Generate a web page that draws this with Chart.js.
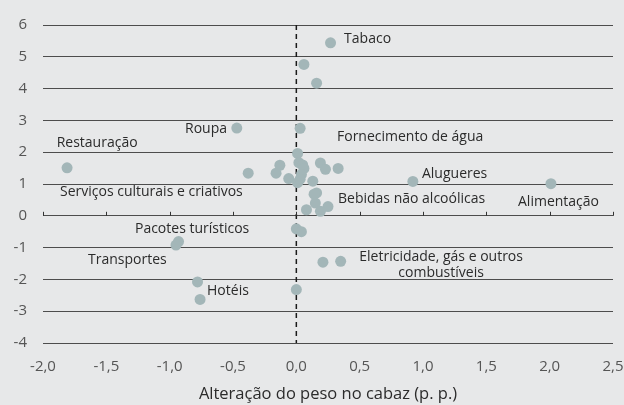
<!DOCTYPE html>
<html>
<head>
<meta charset="utf-8">
<script src="https://cdn.jsdelivr.net/npm/chart.js@4"></script>
<style>
  html, body { margin: 0; padding: 0; background: #e7e8e9; }
  #wrap { width: 624px; height: 405px; }
</style>
</head>
<body>
<div id="wrap"><canvas id="chart"></canvas></div>
<script>
// --- data ---
const xValues = [0.27, 0.06, 0.16, -0.47, 0.03, -1.81, 0.01, -0.13, -0.16, -0.38,
                 0.02, 0.05, 0.06, 0.04, 0.19, 0.23, 0.33, -0.06, 0.01, 0.03,
                 0.13, 0.92, 2.01, 0.16, 0.14, 0.15, 0.25, 0.19, 0.08, 0.00,
                 0.04, -0.93, -0.95, 0.21, 0.35, -0.78, -0.76, 0.00];
const yValues = [5.44, 4.76, 4.17, 2.76, 2.75, 1.51, 1.96, 1.59, 1.34, 1.34,
                 1.67, 1.60, 1.49, 1.30, 1.66, 1.46, 1.49, 1.17, 1.04, 1.15,
                 1.09, 1.08, 1.01, 0.72, 0.68, 0.40, 0.29, 0.14, 0.19, -0.41,
                 -0.50, -0.81, -0.92, -1.46, -1.43, -2.08, -2.63, -2.32];
const xTicks = [-2, -1.5, -1, -0.5, 0, 0.5, 1, 1.5, 2, 2.5];
const yTicks = [-4, -3, -2, -1, 0, 1, 2, 3, 4, 5, 6];

// category labels, anchored in data units
const labelText = ['Tabaco', 'Restauração', 'Roupa', 'Fornecimento de água',
                   'Serviços culturais e criativos', 'Alugueres', 'Bebidas não alcoólicas',
                   'Alimentação', 'Pacotes turísticos', 'Transportes', 'Hotéis',
                   'Eletricidade, gás e outros', 'combustíveis'];
const labelAtX = [0.377, -1.892, -0.547, 0.321, -1.866, 0.992, 0.329, 1.75, -1.274, -1.645, -0.705, 1.143, 1.143];
const labelAtY = [5.56, 2.28, 2.72, 2.47, 0.75, 1.31, 0.53, 0.44, -0.41, -1.375, -2.375, -1.31, -1.81];
const labelAlign = ['left', 'left', 'right', 'left', 'left', 'left', 'left', 'left', 'left', 'left', 'left', 'center', 'center'];

const points = xValues.map((x, i) => ({ x: x, y: yValues[i] }));
const fmt = v => v.toFixed(1).replace('.', ',');

// dashed zero line and the small ticks on the zero axis
const zeroLines = {
    id: 'zeroLines',
    beforeDatasetsDraw(chart) {
        const { ctx, chartArea, scales } = chart;
        const x0 = scales.x.getPixelForValue(0);
        const y0 = scales.y.getPixelForValue(0);
        ctx.save();
        ctx.strokeStyle = '#1a1a1a';
        ctx.lineWidth = 1.5;
        ctx.setLineDash([5, 4]);
        ctx.beginPath();
        ctx.moveTo(x0, chartArea.top);
        ctx.lineTo(x0, chartArea.bottom);
        ctx.stroke();
        ctx.setLineDash([]);
        ctx.lineWidth = 1;
        ctx.strokeStyle = '#333';
        xTicks.forEach(t => {
            const px = Math.round(scales.x.getPixelForValue(t)) + 0.5;
            ctx.beginPath();
            ctx.moveTo(px, y0);
            ctx.lineTo(px, y0 - 4);
            ctx.stroke();
        });
        ctx.restore();
    }
};

const pointLabels = {
    id: 'pointLabels',
    afterDatasetsDraw(chart) {
        const { ctx, scales } = chart;
        ctx.save();
        ctx.font = '14px "Open Sans", sans-serif';
        ctx.fillStyle = '#2b2b2b';
        ctx.textBaseline = 'middle';
        labelText.forEach((t, i) => {
            ctx.textAlign = labelAlign[i];
            ctx.fillText(t, scales.x.getPixelForValue(labelAtX[i]), scales.y.getPixelForValue(labelAtY[i]));
        });
        ctx.restore();
    }
};

new Chart(document.getElementById('chart'), {
    type: 'scatter',
    data: {
        datasets: [{
            data: points,
            backgroundColor: '#a3b6b8',
            borderWidth: 0,
            pointRadius: 5.5,
            pointHoverRadius: 5.5
        }]
    },
    options: {
        responsive: true,
        maintainAspectRatio: false,
        animation: false,
        events: [],
        layout: { padding: { top: 23, right: 11, left: 0, bottom: 0 } },
        plugins: { legend: { display: false }, tooltip: { enabled: false } },
        scales: {
            x: {
                type: 'linear',
                min: -2, max: 2.5,
                afterBuildTicks: s => { s.ticks = xTicks.map(v => ({ value: v })); },
                afterFit: s => { s.height = 62; s.paddingRight = 0; s.paddingLeft = 0; },
                grid: { display: false, drawTicks: false },
                border: { display: false },
                ticks: {
                    padding: 15,
                    color: '#555',
                    font: { family: 'Open Sans', size: 15 },
                    callback: v => fmt(v)
                },
                title: {
                    display: true,
                    text: 'Alteração do peso no cabaz (p. p.)',
                    color: '#2b2b2b',
                    font: { family: 'Open Sans', size: 16.5 },
                    padding: { top: 0, bottom: 1 }
                }
            },
            y: {
                type: 'linear',
                min: -4, max: 6,
                afterBuildTicks: s => { s.ticks = yTicks.map(v => ({ value: v })); },
                afterFit: s => { s.width = 43; },
                grid: { color: '#4d4d4d', lineWidth: 1, drawTicks: false },
                border: { display: false },
                ticks: {
                    padding: 16,
                    color: '#555',
                    font: { family: 'Open Sans', size: 15 },
                    callback: v => String(v)
                }
            }
        }
    },
    plugins: [zeroLines, pointLabels]
});
</script>
</body>
</html>
